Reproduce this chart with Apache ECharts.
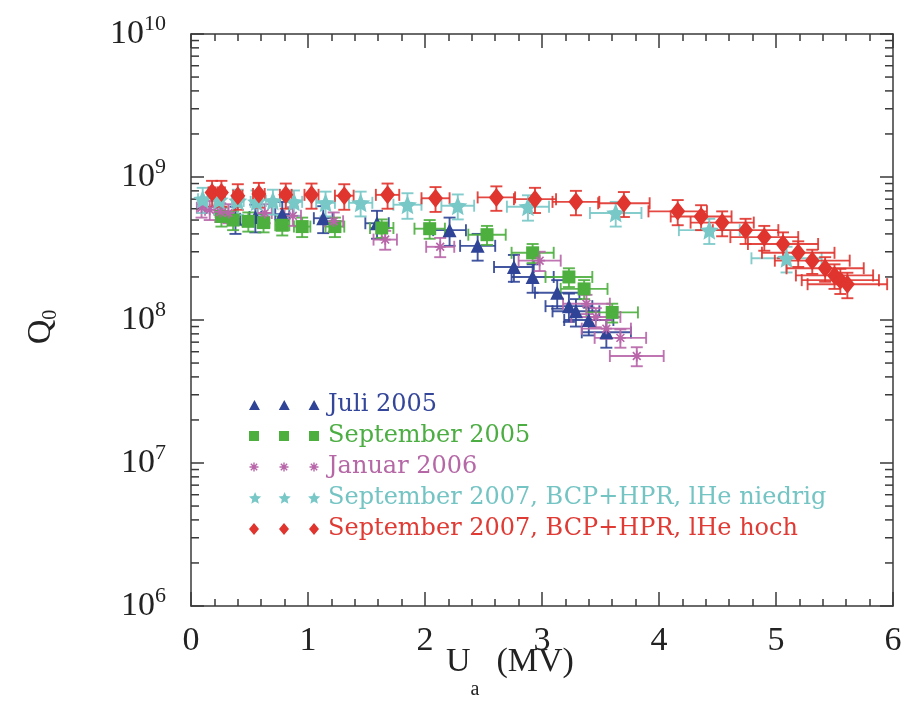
<!DOCTYPE html>
<html>
<head>
<meta charset="utf-8">
<script src="https://cdn.jsdelivr.net/npm/echarts@6/dist/echarts.min.js"></script>
<style>
  html, body { margin: 0; background: #fff; }
  #main { width: 912px; height: 704px; }
</style>
</head>
<body>
<div id="main"></div>
<script>
// Juli 2005
const juliU  = [0.38, 0.55, 0.78, 1.13, 1.59, 2.21, 2.45, 2.76, 2.92, 3.13, 3.23, 3.29, 3.40, 3.55]
const juliQ  = [5.1e8, 5.25e8, 5.5e8, 5.15e8, 4.75e8, 4.25e8, 3.3e8, 2.35e8, 2.0e8, 1.55e8, 1.25e8, 1.15e8, 1.0e8, 8.2e7]
const juliDU = [0.04, 0.05, 0.06, 0.08, 0.10, 0.14, 0.15, 0.17, 0.18, 0.19, 0.20, 0.20, 0.21, 0.21]
const juliDQ = [1.1e8, 1.15e8, 1.2e8, 1.1e8, 1.05e8, 0.95e8, 0.7e8, 0.5e8, 0.45e8, 0.35e8, 0.28e8, 0.25e8, 0.22e8, 0.18e8]

// September 2005
const sep05U  = [0.26, 0.36, 0.49, 0.62, 0.78, 0.95, 1.23, 1.63, 2.04, 2.53, 2.92, 3.23, 3.36, 3.60]
const sep05Q  = [5.3e8, 5.0e8, 4.9e8, 4.8e8, 4.6e8, 4.5e8, 4.5e8, 4.4e8, 4.35e8, 3.95e8, 2.95e8, 2.0e8, 1.65e8, 1.13e8]
const sep05DU = [0.04, 0.04, 0.05, 0.05, 0.06, 0.07, 0.08, 0.10, 0.13, 0.16, 0.18, 0.20, 0.20, 0.22]
const sep05DQ = [0.8e8, 0.75e8, 0.75e8, 0.7e8, 0.7e8, 0.7e8, 0.7e8, 0.65e8, 0.65e8, 0.6e8, 0.45e8, 0.3e8, 0.25e8, 0.17e8]

// Januar 2006
const jan06U  = [0.09, 0.16, 0.25, 0.32, 0.63, 0.87, 1.22, 1.66, 2.13, 2.98, 3.38, 3.46, 3.55, 3.67, 3.81]
const jan06Q  = [6.1e8, 5.9e8, 5.7e8, 5.6e8, 5.6e8, 5.35e8, 4.9e8, 3.65e8, 3.25e8, 2.6e8, 1.3e8, 1.05e8, 8.7e7, 7.5e7, 5.6e7]
const jan06DU = [0.04, 0.04, 0.04, 0.05, 0.06, 0.07, 0.08, 0.10, 0.12, 0.18, 0.20, 0.21, 0.21, 0.22, 0.23]
const jan06DQ = [0.9e8, 0.9e8, 0.85e8, 0.85e8, 0.85e8, 0.8e8, 0.75e8, 0.55e8, 0.5e8, 0.4e8, 0.2e8, 0.16e8, 0.13e8, 0.11e8, 0.085e8]

// September 2007, lHe niedrig
const lowU  = [0.10, 0.24, 0.40, 0.56, 0.70, 0.88, 1.15, 1.45, 1.85, 2.28, 2.88, 3.63, 4.43, 5.09]
const lowQ  = [7.0e8, 6.9e8, 6.8e8, 6.7e8, 6.8e8, 6.7e8, 6.6e8, 6.6e8, 6.4e8, 6.3e8, 6.2e8, 5.6e8, 4.25e8, 2.7e8]
const lowDU = [0.04, 0.04, 0.05, 0.05, 0.06, 0.07, 0.08, 0.10, 0.12, 0.14, 0.18, 0.22, 0.26, 0.30]
const lowDQ = [1.4e8, 1.4e8, 1.35e8, 1.35e8, 1.35e8, 1.35e8, 1.3e8, 1.3e8, 1.3e8, 1.25e8, 1.25e8, 1.1e8, 0.85e8, 0.55e8]

// September 2007, lHe hoch
const highU  = [0.18, 0.26, 0.40, 0.58, 0.81, 1.03, 1.31, 1.68, 2.09, 2.61, 2.94, 3.29, 3.70, 4.16, 4.36, 4.54, 4.74, 4.90, 5.06, 5.19, 5.31, 5.42, 5.50, 5.55, 5.61]
const highQ  = [7.8e8, 7.8e8, 7.4e8, 7.6e8, 7.5e8, 7.5e8, 7.4e8, 7.5e8, 7.1e8, 7.2e8, 7.0e8, 6.7e8, 6.55e8, 5.75e8, 5.3e8, 4.8e8, 4.25e8, 3.8e8, 3.4e8, 2.95e8, 2.6e8, 2.3e8, 2.05e8, 1.9e8, 1.78e8]
const highDU = [0.03, 0.03, 0.04, 0.05, 0.05, 0.06, 0.08, 0.10, 0.12, 0.16, 0.18, 0.20, 0.22, 0.25, 0.26, 0.27, 0.28, 0.29, 0.30, 0.31, 0.32, 0.33, 0.33, 0.33, 0.34]
const highDQ = [1.6e8, 1.6e8, 1.5e8, 1.5e8, 1.5e8, 1.5e8, 1.5e8, 1.5e8, 1.4e8, 1.4e8, 1.4e8, 1.3e8, 1.3e8, 1.15e8, 1.05e8, 0.95e8, 0.85e8, 0.75e8, 0.7e8, 0.6e8, 0.5e8, 0.45e8, 0.4e8, 0.38e8, 0.36e8]

// axis ticks
const xTicks = [0, 1, 2, 3, 4, 5, 6]
const yDecades = [6, 7, 8, 9, 10]

const frame = '#3a3a3a'
const serif = 'Liberation Serif'

// marker outlines (filled paths)
const tri = (cx, cy, w, h) => `M${cx - w / 2},${cy + h / 2}L${cx},${cy - h / 2}L${cx + w / 2},${cy + h / 2}Z`
const sq = (cx, cy, s) => `M${cx - s / 2},${cy - s / 2}H${cx + s / 2}V${cy + s / 2}H${cx - s / 2}Z`
const dia = (cx, cy, w, h) => `M${cx},${cy - h / 2}L${cx + w / 2},${cy}L${cx},${cy + h / 2}L${cx - w / 2},${cy}Z`
function star(cx, cy, r) {
  let d = ''
  for (let i = 0; i < 10; i++) {
    const a = -Math.PI / 2 + i * Math.PI / 5
    const rr = i % 2 ? r * 0.46 : r
    d += (i ? 'L' : 'M') + (cx + rr * Math.cos(a)).toFixed(2) + ',' + (cy + rr * Math.sin(a)).toFixed(2)
  }
  return d + 'Z'
}
function asterisk(cx, cy, r, w) {
  let d = ''
  for (const deg of [0, 45, 90, 135]) {
    const t = deg * Math.PI / 180, c = Math.cos(t), s = Math.sin(t)
    const pts = [[-r, -w], [r, -w], [r, w], [-r, w]].map(([u, v]) => [cx + u * c - v * s, cy + u * s + v * c])
    d += 'M' + pts.map(p => p[0].toFixed(2) + ',' + p[1].toFixed(2)).join('L') + 'Z'
  }
  return d
}
// legend icon: three markers in a 74x12 box
const legendIcon = shape => 'path://M0,0' + [5, 35, 65].map(shape).join('') + 'M74,12'

const sets = [
  { name: 'Juli 2005', U: juliU, Q: juliQ, dU: juliDU, dQ: juliDQ, color: '#2f4496', text: '#34469a',
    symbol: 'triangle', size: 14, icon: legendIcon(cx => tri(cx, 6, 11, 10)) },
  { name: 'September 2005', U: sep05U, Q: sep05Q, dU: sep05DU, dQ: sep05DQ, color: '#4caf3e', text: '#4cae42',
    symbol: 'rect', size: 13, icon: legendIcon(cx => sq(cx, 6, 10)) },
  { name: 'Januar 2006', U: jan06U, Q: jan06Q, dU: jan06DU, dQ: jan06DQ, color: '#b866a9', text: '#b567a6',
    symbol: 'path://' + asterisk(0, 0, 5, 0.75), size: 11, icon: legendIcon(cx => asterisk(cx, 6, 4.5, 0.7)) },
  { name: 'September 2007, BCP+HPR, lHe niedrig', U: lowU, Q: lowQ, dU: lowDU, dQ: lowDQ, color: '#78c8c8', text: '#74c4c4',
    symbol: 'path://' + star(0, 0, 10), size: 19, icon: legendIcon(cx => star(cx, 6.5, 6.5)) },
  { name: 'September 2007, BCP+HPR, lHe hoch', U: highU, Q: highQ, dU: highDU, dQ: highDQ, color: '#e0342e', text: '#df3a33',
    symbol: 'diamond', size: [15, 19], icon: legendIcon(cx => dia(cx, 6, 10, 12)) }
]

function errorBars(color) {
  return function (params, api) {
    const x = api.value(0), y = api.value(1), dx = api.value(2), dy = api.value(3)
    const l = api.coord([x - dx, y]), r = api.coord([x + dx, y])
    const t = api.coord([x, y + dy]), b = api.coord([x, y - dy])
    const cap = 6
    const style = { stroke: color, lineWidth: 1.9, opacity: 0.9 }
    const seg = (x1, y1, x2, y2) => ({ type: 'line', shape: { x1, y1, x2, y2 }, style })
    return {
      type: 'group',
      children: [
        seg(l[0], l[1], r[0], r[1]),
        seg(l[0], l[1] - cap, l[0], l[1] + cap),
        seg(r[0], r[1] - cap, r[0], r[1] + cap),
        seg(t[0], t[1], b[0], b[1]),
        seg(t[0] - cap, t[1], t[0] + cap, t[1]),
        seg(b[0] - cap, b[1], b[0] + cap, b[1])
      ]
    }
  }
}

const series = []
sets.forEach(s => {
  series.push({
    name: s.name + ' err',
    type: 'custom',
    silent: true,
    renderItem: errorBars(s.color),
    encode: { x: 0, y: 1 },
    data: s.U.map((u, i) => [u, s.Q[i], s.dU[i], s.dQ[i]])
  })
  series.push({
    name: s.name,
    type: 'scatter',
    symbol: s.symbol,
    symbolSize: s.size,
    itemStyle: { color: s.color, opacity: 1 },
    data: s.U.map((u, i) => [u, s.Q[i]])
  })
})

// minor ticks of the log axis at 2..9 of every decade (left and right frame)
const yMinor = []
yDecades.slice(0, -1).forEach(e => {
  for (let k = 2; k <= 9; k++) yMinor.push([0, k * Math.pow(10, e)])
})
series.push({
  type: 'custom',
  silent: true,
  data: yMinor,
  encode: { x: 0, y: 1 },
  renderItem: (params, api) => {
    const cs = params.coordSys
    const y = api.coord([0, api.value(1)])[1]
    const style = { stroke: frame, lineWidth: 1.5 }
    return {
      type: 'group',
      children: [
        { type: 'line', shape: { x1: cs.x, y1: y, x2: cs.x + 8, y2: y }, style },
        { type: 'line', shape: { x1: cs.x + cs.width - 8, y1: y, x2: cs.x + cs.width, y2: y }, style }
      ]
    }
  }
})

const xAxisBase = {
  type: 'value',
  min: xTicks[0],
  max: xTicks[xTicks.length - 1],
  interval: 1,
  axisLine: { show: true, onZero: false, lineStyle: { color: frame, width: 1.5 } },
  axisTick: { show: true, inside: true, length: 14, lineStyle: { color: frame, width: 1.5 } },
  minorTick: { show: true, splitNumber: 5, length: 7, lineStyle: { color: frame, width: 1.5 } },
  splitLine: { show: false }
}
const yAxisBase = {
  type: 'log',
  logBase: 10,
  min: Math.pow(10, yDecades[0]),
  max: Math.pow(10, yDecades[yDecades.length - 1]),
  axisLine: { show: true, onZero: false, lineStyle: { color: frame, width: 1.5 } },
  axisTick: { show: true, inside: true, length: 13, lineStyle: { color: frame, width: 1.5 } },
  splitLine: { show: false }
}

const chart = echarts.init(document.getElementById('main'))
chart.setOption({
  animation: false,
  backgroundColor: '#fff',
  grid: { left: 191, right: 19, top: 34, bottom: 98, outerBoundsMode: 'none', containLabel: false },
  xAxis: [
    Object.assign({}, xAxisBase, {
      position: 'bottom',
      axisLabel: { margin: 18, fontFamily: serif, fontSize: 34, color: '#222' },
      name: '{u|U}{s|a}{u|  (MV)}',
      nameLocation: 'middle',
      nameMoveOverlap: false,
      nameGap: 18,
      nameTextStyle: {
        rich: {
          u: { fontFamily: serif, fontSize: 34, color: '#222' },
          s: { fontFamily: serif, fontSize: 20, color: '#222', padding: [56, 0, 0, 0] }
        },
        padding: [0, 64, 0, 0]
      }
    }),
    Object.assign({}, xAxisBase, { position: 'top', axisLabel: { show: false } })
  ],
  yAxis: [
    Object.assign({}, yAxisBase, {
      position: 'left',
      axisLabel: {
        margin: 25,
        formatter: v => '{b|10}{s|' + Math.round(Math.log10(v)) + '}',
        rich: {
          b: { fontFamily: serif, fontSize: 34, color: '#222' },
          s: { fontFamily: serif, fontSize: 22, color: '#222', padding: [0, 0, 20, 0] }
        }
      },
      name: '{q|Q}{s|0}',
      nameLocation: 'middle',
      nameRotate: 90,
      nameGap: 130,
      nameTextStyle: {
        rich: {
          q: { fontFamily: serif, fontSize: 34, color: '#222' },
          s: { fontFamily: serif, fontSize: 20, color: '#222', padding: [20, 14, 0, 0] }
        }
      }
    }),
    Object.assign({}, yAxisBase, { position: 'right', axisLabel: { show: false } })
  ],
  legend: {
    orient: 'vertical',
    left: 244,
    top: 388,
    itemWidth: 74,
    itemHeight: 12,
    itemGap: 7,
    selectedMode: false,
    textStyle: { fontFamily: 'DejaVu Serif', fontSize: 24, lineHeight: 24 },
    data: sets.map(s => ({ name: s.name, icon: s.icon, textStyle: { color: s.text } }))
  },
  series: series
})
</script>
</body>
</html>
